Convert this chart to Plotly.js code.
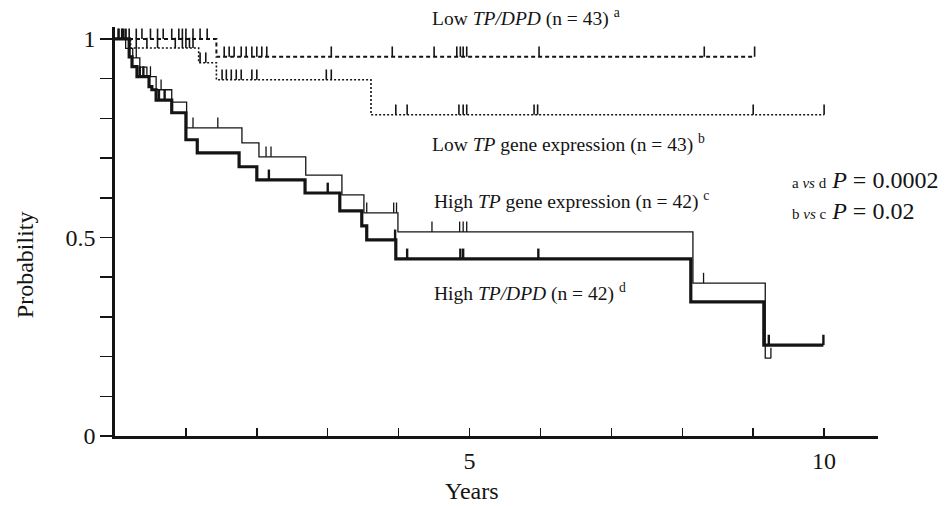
<!DOCTYPE html>
<html>
<head>
<meta charset="utf-8">
<script src="https://cdn.plot.ly/plotly-3.0.1.min.js"></script>
<style>
  html, body { margin: 0; padding: 0; background: #ffffff; }
  #chart { width: 951px; height: 506px; }
</style>
</head>
<body>
<div id="chart"></div>
<script>
// ---- Data (Kaplan–Meier curves) ----
// a: Low TP/DPD (n = 43)
const timesA = [0, 1.43, 9.02];
const survA  = [1, 0.955, 0.955];
const censorA = [0.05, 0.12, 0.2, 0.3, 0.38, 0.5, 0.6, 0.68, 0.8, 0.9, 0.95, 1.0, 1.1, 1.2, 1.3,
                 1.54, 1.61, 1.68, 1.78, 1.85, 1.93, 2.0, 2.07, 2.14, 3.05, 3.91, 4.5, 4.82, 4.87, 4.91, 4.96, 5.98, 8.31, 9.02];

// b: Low TP gene expression (n = 43)
const timesB = [0, 0.22, 1.18, 1.43, 3.61, 10.0];
const survB  = [1, 0.977, 0.94, 0.897, 0.809, 0.809];
const censorB = [0.3, 0.45, 0.6, 0.85, 0.95, 1.0, 1.05, 1.1, 1.2, 1.28,
                 1.51, 1.57, 1.64, 1.71, 1.78, 1.93, 2.0, 2.98, 3.05,
                 3.96, 4.12, 4.85, 4.91, 4.96, 5.91, 5.96, 9.0, 10.0];

// c: High TP gene expression (n = 42)
const timesC = [0, 0.15, 0.25, 0.35, 0.45, 0.58, 0.80, 1.01, 1.79, 2.03, 2.69, 3.2, 3.51, 3.99, 8.15, 9.17, 9.25];
const survC  = [1, 0.976, 0.952, 0.929, 0.905, 0.872, 0.841, 0.776, 0.738, 0.703, 0.657, 0.607, 0.562, 0.514, 0.385, 0.196, 0.196];
const censorC = [0.1, 0.3, 0.5, 0.65, 1.1, 1.45, 2.13, 2.2, 3.55, 3.93, 3.97, 4.47, 4.86, 4.91, 4.96, 8.3, 9.25];

// d: High TP/DPD (n = 42)
const timesD = [0, 0.2, 0.24, 0.31, 0.48, 0.52, 0.58, 0.80, 1.0, 1.16, 1.75, 2.0, 2.68, 3.17, 3.48, 3.55, 3.96, 8.12, 9.15, 9.99];
const survD  = [1, 0.955, 0.93, 0.905, 0.88, 0.872, 0.846, 0.814, 0.746, 0.713, 0.678, 0.645, 0.612, 0.567, 0.529, 0.494, 0.446, 0.338, 0.229, 0.229];
const censorD = [0.05, 0.1, 0.15, 0.35, 0.4, 0.62, 0.7, 2.17, 3.0, 3.95, 4.12, 4.87, 4.91, 5.97, 9.22, 9.99];

// axis tick labels
const yTickVals = [0, 0.5, 1];
const yTickText = ['0', '0.5', '1'];
const xTickVals = [5, 10];
const xTickText = ['5', '10'];

// ---- helpers ----
function stepValue(times, surv, t) {
  let v = surv[0];
  for (let i = 0; i < times.length; i++) { if (times[i] <= t) v = surv[i]; }
  return v;
}
function censorTicks(times, surv, cens, h) {
  const xs = [], ys = [];
  cens.forEach(t => {
    const v = stepValue(times, surv, t);
    xs.push(t, t, null); ys.push(v, v + h, null);
  });
  return {xs, ys};
}

const INK = '#141414';
const TICKH = 0.026;
const traces = [];
function addCurve(times, surv, cens, line, tickWidth) {
  traces.push({x: times, y: surv, mode: 'lines', line: Object.assign({shape: 'hv', color: INK}, line),
               hoverinfo: 'skip', showlegend: false, cliponaxis: false});
  const c = censorTicks(times, surv, cens, TICKH);
  traces.push({x: c.xs, y: c.ys, mode: 'lines', line: {color: INK, width: tickWidth},
               hoverinfo: 'skip', showlegend: false, connectgaps: false, cliponaxis: false});
}
addCurve(timesA, survA, censorA, {width: 2, dash: '4px,3px'}, 1.6);
addCurve(timesB, survB, censorB, {width: 1.6, dash: '2px,2px'}, 1.6);
addCurve(timesC, survC, censorC, {width: 1.3}, 1.3);
addCurve(timesD, survD, censorD, {width: 3.2}, 2.4);

const serif = 'Liberation Serif, Times New Roman, serif';
const layout = {
  width: 951, height: 506,
  margin: {l: 115, r: 73, t: 27, b: 70},
  paper_bgcolor: '#ffffff', plot_bgcolor: '#ffffff',
  font: {family: serif, color: INK, size: 24},
  xaxis: {
    range: [0, 10.76], showgrid: false, zeroline: false,
    showline: true, linewidth: 2.6, linecolor: INK,
    tickmode: 'array', tickvals: xTickVals, ticktext: xTickText,
    ticks: 'inside', ticklen: 8, tickwidth: 1.5, tickcolor: INK,
    minor: {dtick: 1, tick0: 0, ticks: 'inside', ticklen: 8, tickwidth: 1.5, tickcolor: INK, showgrid: false},
    ticklabelstandoff: 2,
    tickfont: {family: serif, size: 24, color: INK}
  },
  yaxis: {
    range: [0, 1.03], showgrid: false, zeroline: false,
    showline: true, linewidth: 2.6, linecolor: INK,
    tickmode: 'array', tickvals: yTickVals, ticktext: yTickText,
    ticks: 'outside', ticklen: 12, tickwidth: 1.5, tickcolor: INK,
    minor: {dtick: 0.1, tick0: 0, ticks: 'outside', ticklen: 12, tickwidth: 1.5, tickcolor: INK, showgrid: false},
    ticklabelstandoff: 0,
    tickfont: {family: serif, size: 24, color: INK}
  },
  annotations: [
    {text: 'Years', xref: 'paper', yref: 'paper', x: 0.468, y: -0.135, xanchor: 'center', yanchor: 'middle',
     showarrow: false, font: {family: serif, size: 24, color: INK}},
    {text: 'Probability', xref: 'paper', yref: 'paper', x: -0.118, y: 0.42, xanchor: 'center', yanchor: 'middle',
     textangle: -90, showarrow: false, font: {family: serif, size: 24, color: INK}},
    {text: 'Low <i>TP/DPD</i> (n = 43) <sup>a</sup>', xref: 'paper', yref: 'paper', x: 0.413, y: 1.024,
     xanchor: 'left', yanchor: 'middle', showarrow: false, font: {family: serif, size: 19.5, color: INK}},
    {text: 'Low <i>TP</i> gene expression (n = 43) <sup>b</sup>', xref: 'paper', yref: 'paper', x: 0.413, y: 0.716,
     xanchor: 'left', yanchor: 'middle', showarrow: false, font: {family: serif, size: 19.5, color: INK}},
    {text: 'High <i>TP</i> gene expression (n = 42) <sup>c</sup>', xref: 'paper', yref: 'paper', x: 0.415, y: 0.577,
     xanchor: 'left', yanchor: 'middle', showarrow: false, font: {family: serif, size: 19.5, color: INK}},
    {text: 'High <i>TP/DPD</i> (n = 42) <sup>d</sup>', xref: 'paper', yref: 'paper', x: 0.415, y: 0.35,
     xanchor: 'left', yanchor: 'middle', showarrow: false, font: {family: serif, size: 19.5, color: INK}},
    {text: '<span style="font-size:15px">a <i>vs</i> d</span> <i>P</i> = 0.0002', xref: 'paper', yref: 'paper', x: 0.885, y: 0.626,
     xanchor: 'left', yanchor: 'middle', showarrow: false, font: {family: serif, size: 24, color: INK}},
    {text: '<span style="font-size:15px">b <i>vs</i> c</span> <i>P</i> = 0.02', xref: 'paper', yref: 'paper', x: 0.885, y: 0.55,
     xanchor: 'left', yanchor: 'middle', showarrow: false, font: {family: serif, size: 24, color: INK}}
  ]
};

Plotly.newPlot('chart', traces, layout, {staticPlot: true, displayModeBar: false});
</script>
</body>
</html>
